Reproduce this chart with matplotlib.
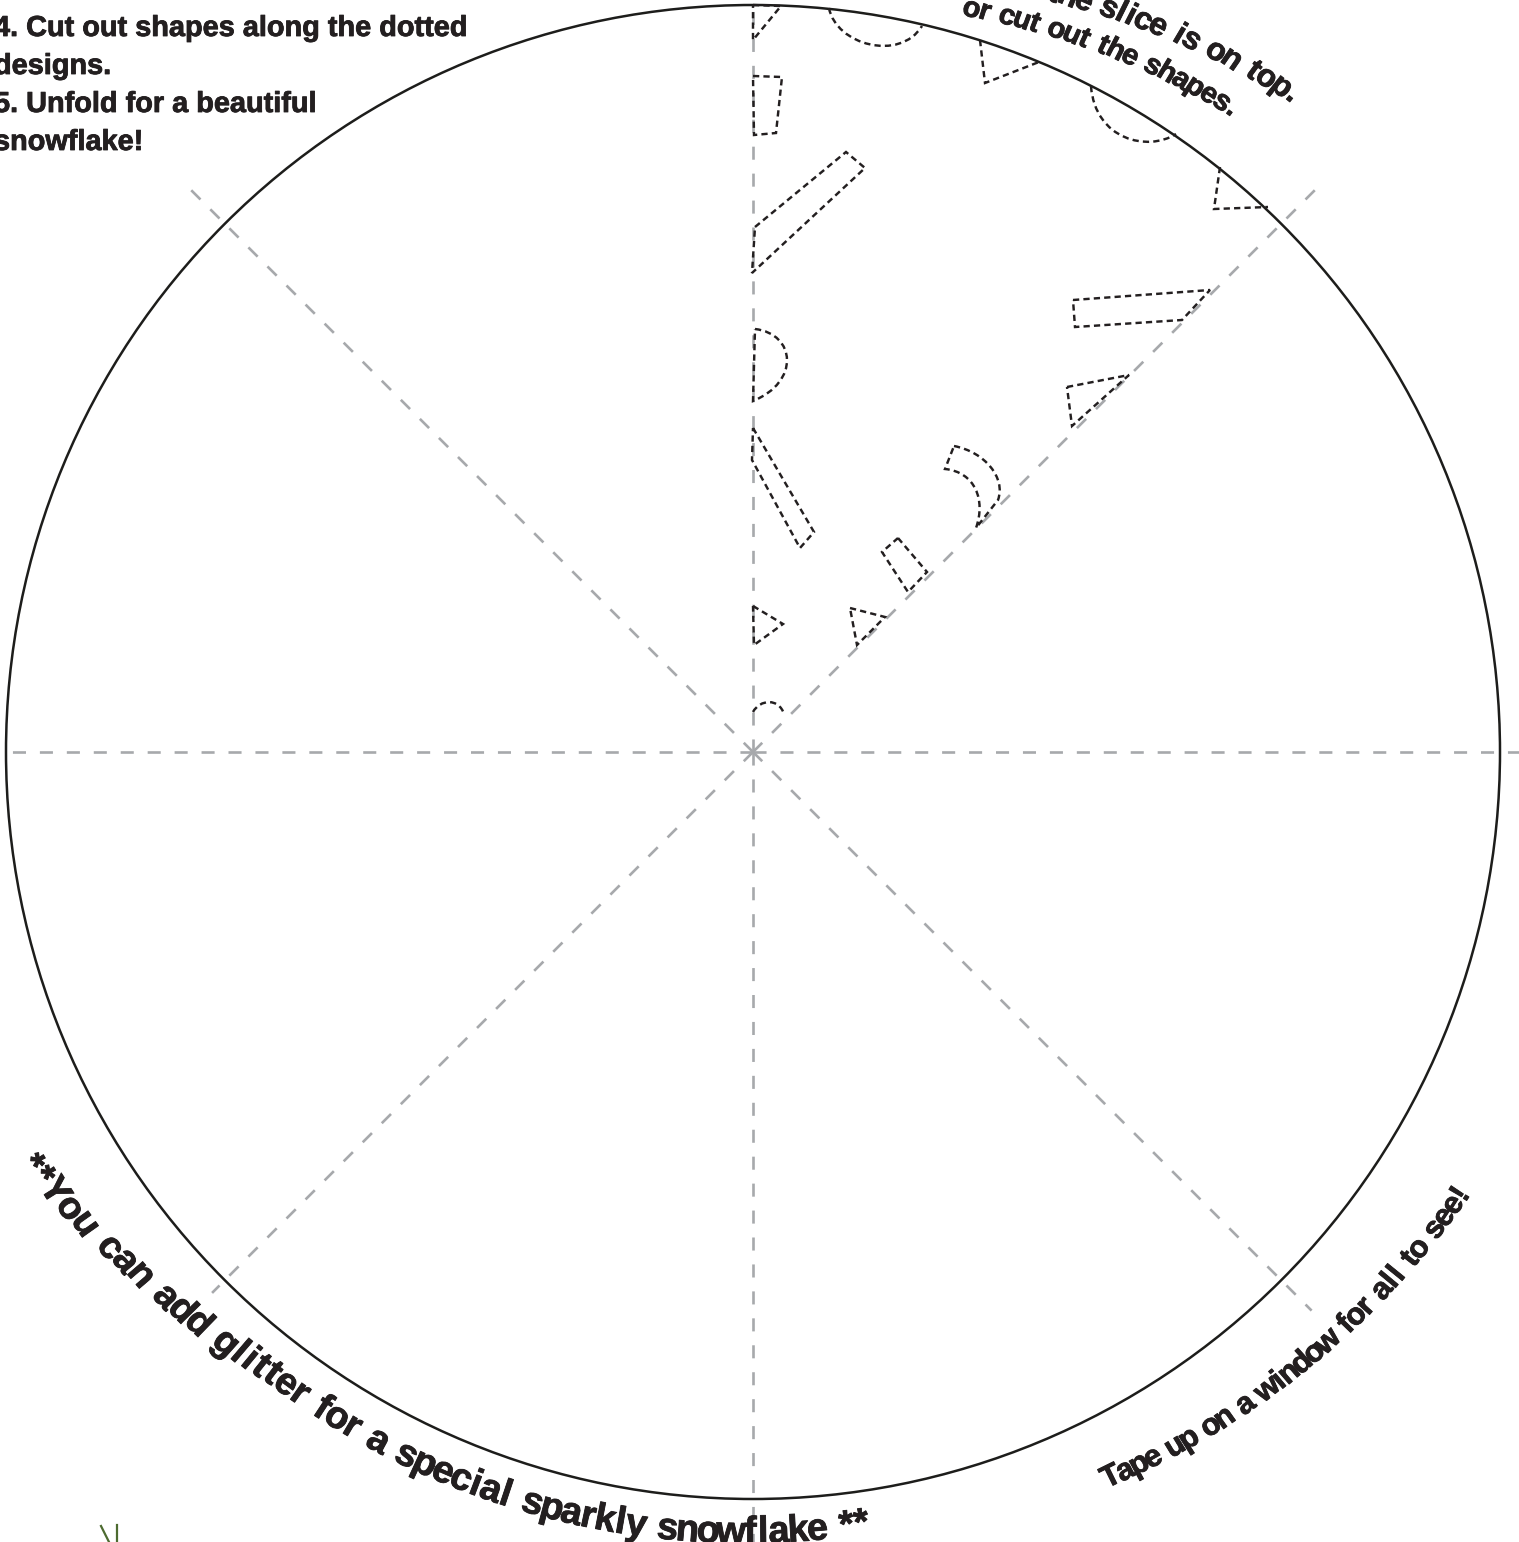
import numpy as np
import matplotlib
matplotlib.use("Agg")
import matplotlib.pyplot as plt
import matplotlib.patheffects as pe
from matplotlib.path import Path
from matplotlib.patches import PathPatch, Circle
from matplotlib import font_manager
from matplotlib.ft2font import FT2Font, LoadFlags

plt.rcParams['lines.scale_dashes'] = False

W, H = 1519, 1542
CX, CY = 753, 752
RADIUS = 747
INK = '#231f20'
FOLD_GRAY = '#a7a9ac'

# fold lines from the centre: screen angle (deg, y down) and length in px
FOLD_ANGLES = [0, 45, 90, 135, 180, 225, 270, 315]
FOLD_LENGTHS = [800, 790, 800, 765, 745, 795, 800, 795]

# closed dashed cut-outs (page pixels, y down)
POLYGONS = [
    [(753, 5), (781, 6), (753, 40)],
    [(753, 76), (782, 77), (776, 133), (754, 135)],
    [(755, 227), (846, 152), (865, 168), (752, 273)],
    [(753, 428), (814, 532), (800, 548), (752, 460)],
    [(1073, 300), (1210, 290), (1182, 320), (1075, 327)],
    [(1067, 387), (1129, 375), (1072, 426)],
    [(898, 538), (927, 572), (908, 592), (882, 552)],
    [(753, 606), (783, 624), (754, 645)],
    [(850, 608), (885, 617), (857, 645)],
]
# open notches whose ends sit on the circle
NOTCHES = [
    [(980, 40), (985, 83), (1039, 62)],
    [(1220, 167), (1214, 209), (1268, 207)],
]
# open cubic curves: start, ctrl, ctrl, end
CURVES = [
    [(829, 8), (836, 45), (900, 62), (922, 26)],
    [(1091, 86), (1095, 140), (1148, 152), (1176, 134)],
    [(753, 712), (760, 699), (779, 698), (784, 714)],
]
D_SHAPE = [(755, 329), (796, 334), (800, 382), (753, 401)]
CRESCENT_OUTER = [(954, 446), (985, 452), (1006, 478), (998, 500)]
CRESCENT_INNER = [(976, 528), (986, 500), (975, 472), (945, 469)]

NOTE_LINES = ["4. Cut out shapes along the dotted", "designs.",
              "5. Unfold for a beautiful", "snowflake!"]
NOTE_BASELINES = [36, 74, 112, 150]
TOP_LINE_A = "so the slice is on top."
TOP_LINE_B = "or cut out the shapes."
BOTTOM_LEFT = "**You can add glitter for a special sparkly snowflake **"
BOTTOM_RIGHT = "Tape up on a window for all to see!"

GRASS = [[(101, 1526), (109, 1542)], [(117, 1525), (117, 1542)]]


def find_font(families):
    for fam in families:
        try:
            fp = font_manager.FontProperties(family=fam, weight='bold')
            path = font_manager.findfont(fp, fallback_to_default=False)
            return fam, path
        except Exception:
            pass
    fp = font_manager.FontProperties(family='DejaVu Sans', weight='bold')
    return 'DejaVu Sans', font_manager.findfont(fp)


FAMILY, FONT_PATH = find_font(['Liberation Sans', 'DejaVu Sans'])
HEAVY = [pe.withStroke(linewidth=0.6, foreground=INK)]


def advances(text):
    f = FT2Font(FONT_PATH)
    f.set_size(100, 72)
    out = []
    for c in text:
        g = f.load_char(ord(c), flags=LoadFlags.NO_HINTING)
        out.append(g.linearHoriAdvance / 65536 / 100)
    out = np.array(out)
    # the printed face is a condensed one with more even widths
    return 0.7 * out + 0.3 * out.mean()


def arc_text(ax, text, i0, phi0, i1, phi1, r_t, r_v, tops_in, grow=1.0):
    """Lay text round the centre; char i0 sits at phi0, i1 at phi1 (deg)."""
    adv = advances(text)
    centers = np.cumsum(adv) - adv / 2
    t = (centers - centers[i0]) / (centers[i1] - centers[i0])
    rs = np.interp(t, r_t, r_v)
    k0 = (r_v[1] - r_v[0]) / (r_t[1] - r_t[0])
    k1 = (r_v[-1] - r_v[-2]) / (r_t[-1] - r_t[-2])
    rs = np.where(t < r_t[0], r_v[0] + k0 * (t - r_t[0]), rs)
    rs = np.where(t > r_t[-1], r_v[-1] + k1 * (t - r_t[-1]), rs)
    span = np.radians(abs(phi1 - phi0)) * np.mean(r_v)
    size_px = span / (centers[i1] - centers[i0]) * grow
    phis = np.radians(phi0 + t * (phi1 - phi0))
    for ch, ph, r in zip(text, phis, rs):
        if ch == ' ':
            continue
        x = CX + r * np.cos(ph)
        y = CY + r * np.sin(ph)
        if tops_in:
            rot = np.degrees(np.arctan2(np.cos(ph), np.sin(ph)))
        else:
            rot = np.degrees(np.arctan2(-np.cos(ph), -np.sin(ph)))
        ax.text(x, y, ch, fontsize=size_px * 0.72, family=FAMILY, weight='bold',
                color=INK, rotation=rot, rotation_mode='anchor',
                ha='center', va='baseline', path_effects=HEAVY)


fig = plt.figure(figsize=(W / 100, H / 100), dpi=100)
ax = fig.add_axes([0, 0, 1, 1])
ax.set_xlim(0, W)
ax.set_ylim(H, 0)
ax.axis('off')

# fold guides
for ang, length in zip(FOLD_ANGLES, FOLD_LENGTHS):
    a = np.radians(ang)
    ax.plot([CX, CX + length * np.cos(a)], [CY, CY + length * np.sin(a)],
            color=FOLD_GRAY, lw=1.9, linestyle=(0, (9.4, 10.0)), zorder=1)

ax.add_patch(Circle((CX, CY), RADIUS, fill=False, ec='#1d1d1b', lw=1.8, zorder=2))

cut_style = dict(fill=False, ec=INK, lw=1.75, linestyle=(0, (4.5, 3.0)), zorder=3)

for poly in POLYGONS:
    verts = poly + [poly[0]]
    codes = [Path.MOVETO] + [Path.LINETO] * (len(poly) - 1) + [Path.CLOSEPOLY]
    ax.add_patch(PathPatch(Path(verts, codes), **cut_style))

for poly in NOTCHES:
    codes = [Path.MOVETO] + [Path.LINETO] * (len(poly) - 1)
    ax.add_patch(PathPatch(Path(poly, codes), **cut_style))

for cv in CURVES:
    codes = [Path.MOVETO, Path.CURVE4, Path.CURVE4, Path.CURVE4]
    ax.add_patch(PathPatch(Path(cv, codes), **cut_style))

verts = D_SHAPE + [D_SHAPE[0]]
codes = [Path.MOVETO, Path.CURVE4, Path.CURVE4, Path.CURVE4, Path.CLOSEPOLY]
ax.add_patch(PathPatch(Path(verts, codes), **cut_style))

verts = CRESCENT_OUTER + CRESCENT_INNER + [CRESCENT_OUTER[0]]
codes = ([Path.MOVETO, Path.CURVE4, Path.CURVE4, Path.CURVE4, Path.LINETO,
          Path.CURVE4, Path.CURVE4, Path.CURVE4, Path.CLOSEPOLY])
ax.add_patch(PathPatch(Path(verts, codes), **cut_style))

# instructions, top left (cut by the page edge like the printed sheet)
for line, base in zip(NOTE_LINES, NOTE_BASELINES):
    ax.text(-6, base, line, fontsize=20.8, family=FAMILY, weight='bold',
            color=INK, ha='left', va='baseline', path_effects=HEAVY)

arc_text(ax, TOP_LINE_A, 5, -66.2, 22, -50.6, [0, 1], [812, 843], tops_in=False, grow=1.04)
arc_text(ax, TOP_LINE_B, 1, -72.6, 21, -53.3, [0, 1], [768, 795], tops_in=False, grow=1.04)
arc_text(ax, BOTTOM_LEFT, 0, 150.3, len(BOTTOM_LEFT) - 1, 82.0,
         [0, 0.15, 0.33, 1], [842, 816, 796, 790], tops_in=True, grow=1.0)
arc_text(ax, BOTTOM_RIGHT, 0, 63.7, len(BOTTOM_RIGHT) - 1, 32.0,
         [0, 1], [817, 843], tops_in=True, grow=1.08)

for seg in GRASS:
    xs, ys = zip(*seg)
    ax.plot(xs, ys, color='#4d6b30', lw=1.6)

fig.savefig('out.png', dpi=100)
